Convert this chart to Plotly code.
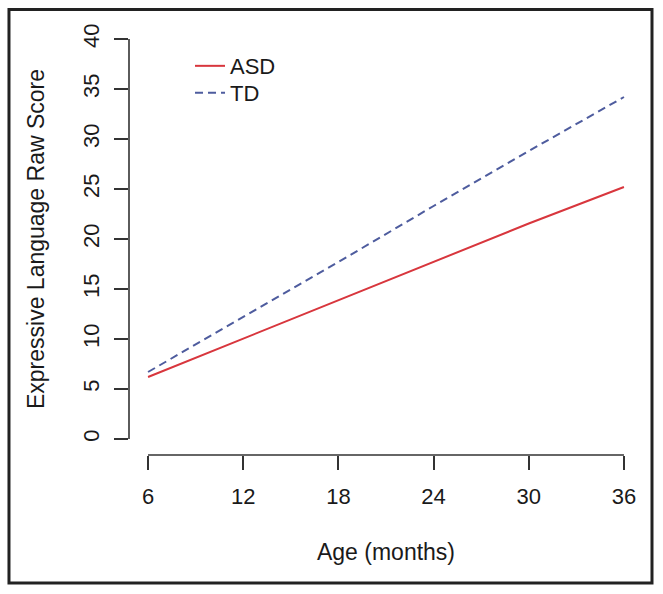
import plotly.graph_objects as go

# Data
age_months = [6, 12, 18, 24, 30, 36]
asd_score = [6.2, 10.05, 13.9, 17.7, 21.55, 25.2]
td_score = [6.7, 12.2, 17.7, 23.3, 28.8, 34.2]
x_ticks = [6, 12, 18, 24, 30, 36]
y_ticks = [0, 5, 10, 15, 20, 25, 30, 35, 40]

FONT = "Liberation Sans, Arial, Helvetica, sans-serif"
AXIS_COLOR = "#333333"

fig = go.Figure()
fig.add_trace(go.Scatter(x=age_months, y=asd_score, mode="lines", name="ASD",
                         line=dict(color="#D8363D", width=2), legend="legend"))
fig.add_trace(go.Scatter(x=age_months, y=td_score, mode="lines", name="TD",
                         line=dict(color="#4E5C9E", width=2, dash="8px,5px"), legend="legend2"))

legend_common = dict(xanchor="left", yanchor="top", bgcolor="rgba(0,0,0,0)",
                     font=dict(size=22), itemwidth=30)

fig.update_layout(
    width=663, height=594,
    margin=dict(l=129, r=20, t=23, b=139),
    paper_bgcolor="white", plot_bgcolor="white",
    font=dict(family=FONT, size=22, color="#1a1a1a"),
    showlegend=True,
    legend=dict(x=0.1187, y=0.949, **legend_common),
    legend2=dict(x=0.1187, y=0.8866, **legend_common),
    xaxis=dict(range=[4.8, 37.2], tickvals=x_ticks, ticktext=[str(v) for v in x_ticks],
               showgrid=False, zeroline=False, showline=False,
               ticks="outside", ticklen=14, tickwidth=1.6, tickcolor=AXIS_COLOR,
               ticklabelstandoff=8,
               tickfont=dict(size=22),
               title=dict(text="Age (months)", font=dict(size=23), standoff=35)),
    yaxis=dict(range=[-1.6, 41.6], tickvals=y_ticks, ticktext=[str(v) for v in y_ticks],
               showgrid=False, zeroline=False, showline=False,
               ticks="outside", ticklen=14, tickwidth=1.6, tickcolor=AXIS_COLOR,
               tickangle=-90, ticklabelstandoff=6,
               tickfont=dict(size=22),
               title=dict(text="Expressive Language Raw Score", font=dict(size=23), standoff=28)),
)

# R-style detached axis lines spanning first to last tick
fig.add_shape(type="line", xref="paper", yref="y", x0=0, x1=0,
              y0=y_ticks[0], y1=y_ticks[-1], line=dict(color=AXIS_COLOR, width=1.6))
fig.add_shape(type="line", xref="x", yref="paper", x0=x_ticks[0], x1=x_ticks[-1],
              y0=0, y1=0, line=dict(color=AXIS_COLOR, width=1.6))

# Outer figure border
fig.add_shape(type="rect", xref="paper", yref="paper",
              x0=-0.2335, x1=1.0175, y0=-0.2963, y1=1.0313,
              line=dict(color="#222222", width=3), fillcolor="rgba(0,0,0,0)", layer="above")

fig.write_html("out.html", config={"displayModeBar": False},
               post_script="document.body.style.margin='0';document.body.style.overflow='hidden';")
